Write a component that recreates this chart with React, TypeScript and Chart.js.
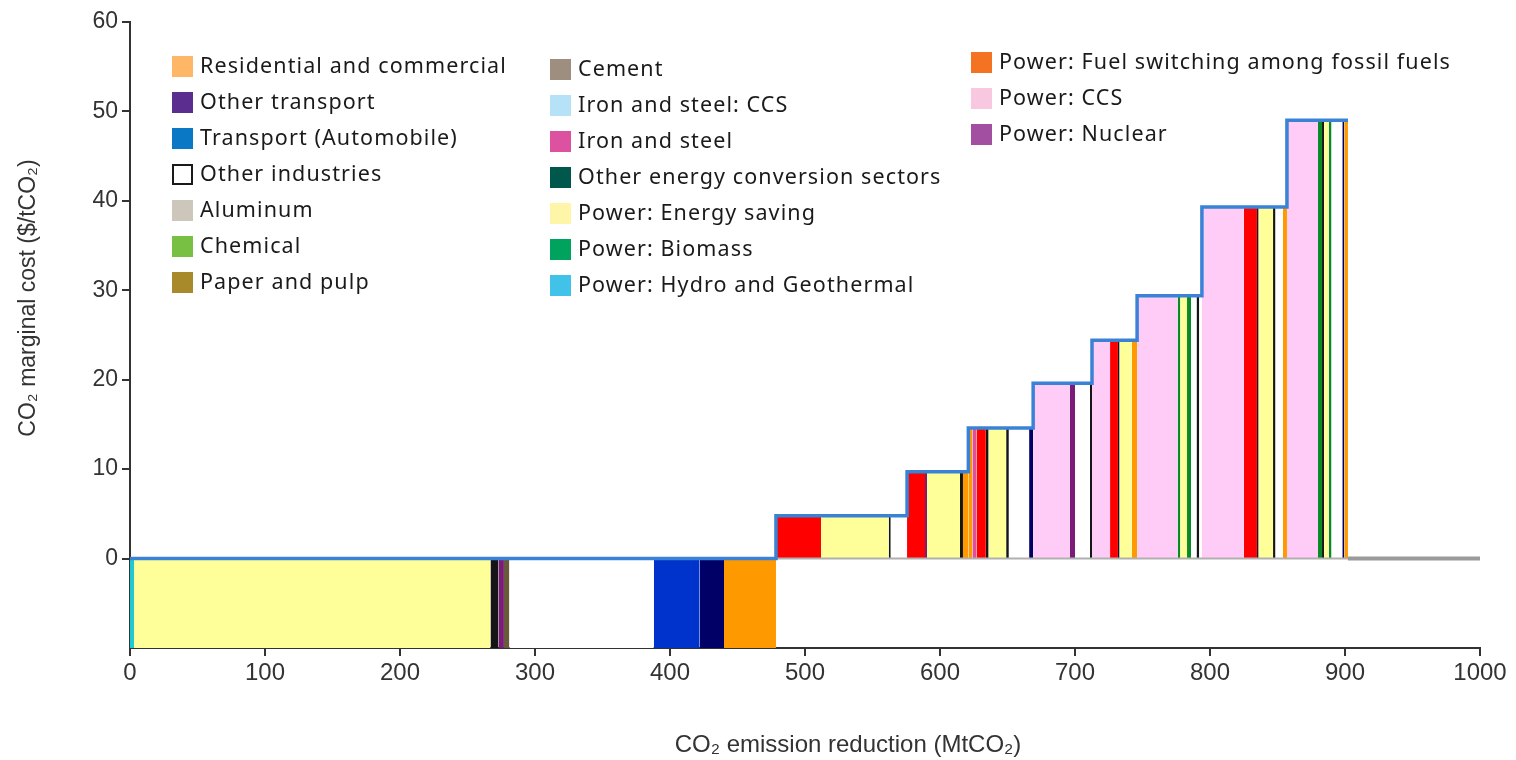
import React, { useEffect, useRef } from 'react';
import { Chart, registerables } from 'chart.js';

Chart.register(...registerables);

// ---------- DATA ----------
const X_MIN = 0;
const X_MAX = 1000;
const X_STEP = 100;
const Y_MIN = -10;
const Y_MAX = 60;
const Y_STEP = 10;

const SECTORS_COL1 = [
  'Residential and commercial',
  'Other transport',
  'Transport (Automobile)',
  'Other industries',
  'Aluminum',
  'Chemical',
  'Paper and pulp',
];
const SECTORS_COL2 = [
  'Cement',
  'Iron and steel: CCS',
  'Iron and steel',
  'Other energy conversion sectors',
  'Power: Energy saving',
  'Power: Biomass',
  'Power: Hydro and Geothermal',
];
const SECTORS_COL3 = [
  'Power: Fuel switching among fossil fuels',
  'Power: CCS',
  'Power: Nuclear',
];

// abatement measures in merit order: sector, reduction (MtCO2), marginal cost ($/tCO2; -10 = below axis)
const segSector = [
  'Power: Hydro and Geothermal', 'Power: Energy saving', 'Other energy conversion sectors', 'Power: Nuclear', 'Cement',
  'Other industries', 'Transport (Automobile)', 'Other transport', 'Residential and commercial',
  'Power: Fuel switching among fossil fuels', 'Power: Energy saving', 'Other energy conversion sectors', 'Other industries',
  'Power: Fuel switching among fossil fuels', 'Power: Nuclear', 'Power: Energy saving', 'Other energy conversion sectors', 'Residential and commercial',
  'Residential and commercial', 'Iron and steel', 'Power: Fuel switching among fossil fuels', 'Other energy conversion sectors', 'Power: Energy saving', 'Other energy conversion sectors', 'Other industries', 'Other transport',
  'Power: CCS', 'Power: Nuclear', 'Other industries', 'Other energy conversion sectors',
  'Power: CCS', 'Power: Fuel switching among fossil fuels', 'Other energy conversion sectors', 'Power: Energy saving', 'Residential and commercial',
  'Power: CCS', 'Power: Biomass', 'Power: Energy saving', 'Power: Biomass', 'Other industries', 'Other energy conversion sectors', 'Other industries',
  'Power: CCS', 'Power: Fuel switching among fossil fuels', 'Other energy conversion sectors', 'Power: Energy saving', 'Other energy conversion sectors', 'Other industries', 'Residential and commercial',
  'Power: CCS', 'Power: Biomass', 'Other energy conversion sectors', 'Power: Energy saving', 'Power: Biomass', 'Other industries', 'Other transport', 'Residential and commercial',
];
const segWidth = [
  3, 264, 6, 4, 4, 107, 34, 18, 38.5,
  33.4, 50.1, 1.5, 12.1,
  13.3, 1.5, 24.4, 2.2, 4,
  3, 3, 7, 2, 13, 2, 15, 3,
  27, 4, 11, 1.6,
  13.4, 5.8, 1.2, 9, 4,
  30, 2, 5, 3, 4, 2, 2,
  31, 9.8, 1.2, 10.7, 1.8, 5.5, 3,
  23, 3, 1.5, 3.5, 2, 8, 1.5, 2.7,
];
const segCost = [
  -10, -10, -10, -10, -10, -10, -10, -10, -10,
  4.8, 4.8, 4.8, 4.8,
  9.7, 9.7, 9.7, 9.7, 9.7,
  14.6, 14.6, 14.6, 14.6, 14.6, 14.6, 14.6, 14.6,
  19.6, 19.6, 19.6, 19.6,
  24.4, 24.4, 24.4, 24.4, 24.4,
  29.4, 29.4, 29.4, 29.4, 29.4, 29.4, 29.4,
  39.3, 39.3, 39.3, 39.3, 39.3, 39.3, 39.3,
  49, 49, 49, 49, 49, 49, 49, 49,
];

// ---------- STYLES ----------
const LEGEND_COLORS: Record<string, string> = {
  'Residential and commercial': '#fdb766',
  'Other transport': '#5a2d8f',
  'Transport (Automobile)': '#0a78c4',
  'Other industries': '#ffffff',
  'Aluminum': '#cdc6ba',
  'Chemical': '#78c043',
  'Paper and pulp': '#a98a2b',
  'Cement': '#9d8e80',
  'Iron and steel: CCS': '#b6e2f7',
  'Iron and steel': '#dc52a0',
  'Other energy conversion sectors': '#00584c',
  'Power: Energy saving': '#fff5a8',
  'Power: Biomass': '#00a35e',
  'Power: Hydro and Geothermal': '#41c2e9',
  'Power: Fuel switching among fossil fuels': '#f47322',
  'Power: CCS': '#f8c8e1',
  'Power: Nuclear': '#a24fa2',
};
const BAR_COLORS: Record<string, string> = {
  'Power: Hydro and Geothermal': '#20c8d0',
  'Power: Energy saving': '#ffff99',
  'Other energy conversion sectors': '#151515',
  'Power: Nuclear': '#7a1c78',
  'Cement': '#6a5a3c',
  'Other industries': '#ffffff',
  'Transport (Automobile)': '#0033cc',
  'Other transport': '#000066',
  'Residential and commercial': '#ff9900',
  'Power: Fuel switching among fossil fuels': '#ff0000',
  'Iron and steel': '#e0509a',
  'Power: CCS': '#ffccf7',
  'Power: Biomass': '#098a24',
};

const FONT = '"Liberation Sans", Arial, sans-serif';
const LEGEND_FONT = '"Noto Sans", "Open Sans", sans-serif';

const overlayPlugin = {
  id: 'overlay',
  afterDraw(chart: any) {
    const ctx = chart.ctx as any;
    ctx.save();
    // legend
    const cols = [
      { names: SECTORS_COL1, x: 172, y0: 67 },
      { names: SECTORS_COL2, x: 550, y0: 70 },
      { names: SECTORS_COL3, x: 971, y0: 63 },
    ];
    ctx.font = `21.5px ${LEGEND_FONT}`;
    ctx.letterSpacing = '1.1px';
    ctx.textBaseline = 'middle';
    ctx.textAlign = 'left';
    cols.forEach((col) => {
      col.names.forEach((name, i) => {
        const y = col.y0 + i * 36;
        ctx.fillStyle = LEGEND_COLORS[name];
        ctx.fillRect(col.x, y - 11, 21, 21);
        if (name === 'Other industries') {
          ctx.strokeStyle = '#1a1a1a';
          ctx.lineWidth = 2;
          ctx.strokeRect(col.x + 1, y - 10, 19, 19);
        }
        ctx.fillStyle = '#1a1a1a';
        ctx.fillText(name, col.x + 28, y);
      });
    });
    ctx.letterSpacing = '0px';
    // axis titles
    ctx.fillStyle = '#333333';
    ctx.font = `24px ${FONT}`;
    ctx.textAlign = 'center';
    ctx.fillText('CO₂ emission reduction (MtCO₂)', 848, 745);
    ctx.translate(29, 298);
    ctx.rotate(-Math.PI / 2);
    ctx.font = `23px ${FONT}`;
    ctx.fillText('CO₂ marginal cost ($/tCO₂)', 0, 0);
    ctx.restore();
  },
};

export default function App() {
  const ref = useRef<HTMLCanvasElement | null>(null);

  useEffect(() => {
    if (!ref.current) return;
    const starts: number[] = [];
    let acc = 0;
    segWidth.forEach((w) => {
      starts.push(acc);
      acc += w;
    });
    const total = acc;

    const segDatasets = segWidth.map((w, i) => ({
      label: segSector[i],
      data: [
        { x: starts[i], y: segCost[i] },
        { x: starts[i] + w, y: segCost[i] },
      ],
      borderWidth: 0,
      borderColor: 'rgba(0,0,0,0)',
      backgroundColor: BAR_COLORS[segSector[i]],
      fill: 'origin',
      pointRadius: 0,
      order: 3,
    }));

    // outline (step curve, clipped at zero)
    const outline: { x: number; y: number }[] = [{ x: 0, y: 0 }];
    let prev = 0;
    segWidth.forEach((w, i) => {
      const y = Math.max(segCost[i], 0);
      if (y !== prev) {
        outline.push({ x: starts[i], y: prev });
        outline.push({ x: starts[i], y });
        prev = y;
      }
    });
    outline.push({ x: total, y: prev });

    const firstPos = segCost.findIndex((c) => c > 0);
    const baseline = [
      { x: starts[firstPos], y: 0 },
      { x: total, y: 0 },
    ];
    const tail = [
      { x: total, y: 0 },
      { x: X_MAX, y: 0 },
    ];

    const chart = new Chart(ref.current, {
      type: 'line',
      data: {
        datasets: [
          {
            label: 'Outline',
            data: outline,
            borderColor: '#3a82d6',
            borderWidth: 3.5,
            pointRadius: 0,
            fill: false,
            order: 0,
          } as any,
          {
            label: 'Tail',
            data: tail,
            borderColor: '#9a9a9a',
            borderWidth: 4,
            pointRadius: 0,
            fill: false,
            order: 1,
          },
          {
            label: 'Base',
            data: baseline,
            borderColor: '#b0b0b0',
            borderWidth: 2,
            pointRadius: 0,
            fill: false,
            order: 2,
          },
          ...(segDatasets as any[]),
        ],
      },
      options: {
        animation: false,
        responsive: false,
        maintainAspectRatio: false,
        layout: { padding: { left: 0, right: 36, top: 22, bottom: 0 } },
        plugins: {
          legend: { display: false },
          tooltip: { enabled: false },
        },
        elements: { line: { tension: 0 } },
        scales: {
          x: {
            type: 'linear',
            min: X_MIN,
            max: X_MAX,
            ticks: {
              stepSize: X_STEP,
              color: '#333333',
              font: { family: FONT, size: 24 },
              padding: 3,
              maxRotation: 0,
              callback: (v: any) => String(v),
            },
            grid: { drawOnChartArea: false, drawTicks: true, tickLength: 8, color: '#333333', lineWidth: 2 },
            border: { display: true, color: '#333333', width: 2 },
            afterFit: (s: any) => {
              s.height = 112;
            },
          },
          y: {
            type: 'linear',
            min: Y_MIN,
            max: Y_MAX,
            ticks: {
              stepSize: Y_STEP,
              color: '#333333',
              font: { family: FONT, size: 23 },
              padding: 4,
              callback: (v: any) => (v < 0 ? null : String(v)),
            },
            grid: { drawOnChartArea: false, drawTicks: true, tickLength: 8, color: '#333333', lineWidth: 2 },
            border: { display: true, color: '#333333', width: 2 },
            afterFit: (s: any) => {
              s.width = 130;
            },
          },
        },
      },
      plugins: [overlayPlugin],
    });
    return () => chart.destroy();
  }, []);

  return (
    <div style={{ position: 'fixed', left: 0, top: 0, width: 1516, height: 760, background: '#ffffff' }}>
      <canvas ref={ref} width={1516} height={760} style={{ width: 1516, height: 760 }} />
    </div>
  );
}
